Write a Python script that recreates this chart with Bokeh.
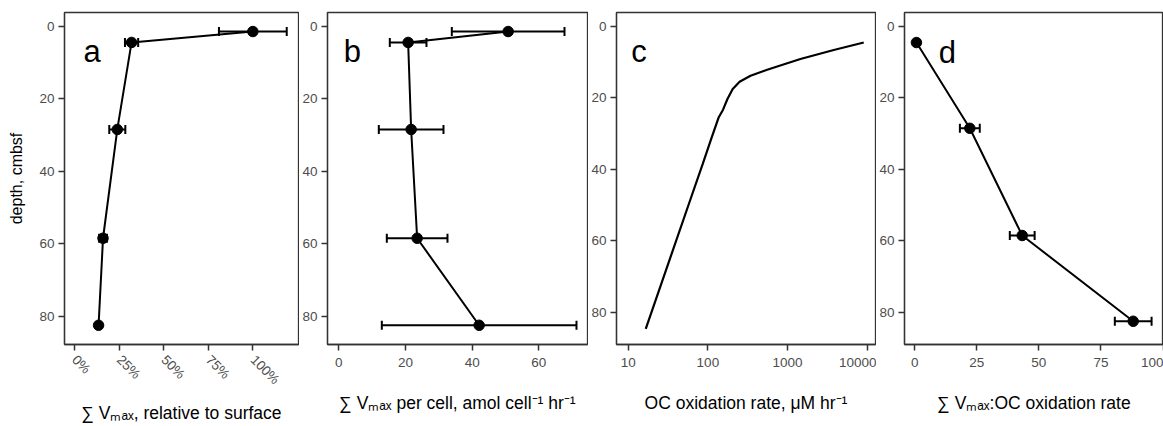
from bokeh.plotting import figure
from bokeh.layouts import row
from bokeh.models import (Range1d, FixedTicker, PrintfTickFormatter, NumeralTickFormatter,
                          Whisker, TeeHead, ColumnDataSource, Label)
from bokeh.embed import file_html
from bokeh.resources import INLINE

# ---------------- data ----------------
depth = [1.5, 4.5, 28.5, 58.5, 82.5]

# panel a: sum Vmax relative to surface (%)
vmax_rel = [100, 32, 24, 16, 13.5]
vmax_rel_err = [19, 3.7, 4.5, 2.2, 0.5]

# panel b: sum Vmax per cell (amol cell-1 hr-1)
vmax_cell = [50.8, 20.8, 21.7, 23.5, 42.1]
vmax_cell_err = [16.9, 5.5, 9.7, 9.1, 29.2]

# panel c: OC oxidation rate (uM hr-1) profile
oc_rate = [9040, 3800, 1450, 555, 343, 250, 205, 176, 155, 137, 112, 86, 61.7, 16.6]
oc_depth = [4.5, 6.6, 9.1, 12.1, 13.8, 15.5, 17.5, 20.3, 23.3, 25.4, 31.0, 38.5, 47.8, 84.6]

# panel d: sum Vmax : OC oxidation rate
depth_d = [4.5, 28.5, 58.5, 82.5]
ratio = [0.7, 22.2, 43.3, 88.0]
ratio_err = [0.0, 4.0, 5.0, 7.4]

depth_ticks = [0, 20, 40, 60, 80]
ticks_a = [0, 25, 50, 75, 100]
ticks_b = [0, 20, 40, 60]
ticks_c = [10, 100, 1000, 10000]
ticks_d = [0, 25, 50, 75, 100]

FONT = "Liberation Sans"
H = 426


def style(p):
    p.outline_line_color = "#333333"
    p.outline_line_width = 1.3
    p.grid.visible = False
    p.background_fill_color = "white"
    p.border_fill_color = "white"
    for ax in p.axis:
        ax.axis_line_color = "#333333"
        ax.axis_line_width = 1.3
        ax.major_tick_line_color = "#333333"
        ax.major_tick_line_width = 1.5
        ax.major_tick_out = 6
        ax.major_tick_in = 0
        ax.minor_tick_line_color = None
        ax.major_label_text_font = FONT
        ax.major_label_text_font_size = "13.5px"
        ax.major_label_text_color = "#4D4D4D"
        ax.axis_label_text_font = FONT
        ax.axis_label_text_font_size = "17.5px"
        ax.axis_label_text_font_style = "normal"
        ax.axis_label_text_color = "black"
    p.yaxis.major_label_standoff = 4
    p.xaxis.major_label_standoff = 7


def make_fig(width, bl, br, x_range, y_range, x_axis_type="linear"):
    p = figure(width=width, height=H, x_range=x_range, y_range=y_range,
               x_axis_type=x_axis_type, output_backend="svg", toolbar_location=None,
               min_border_left=bl, min_border_right=br, min_border_top=12, min_border_bottom=82)
    style(p)
    p.yaxis.ticker = FixedTicker(ticks=depth_ticks)
    return p


def add_profile(p, xs, ys, errs):
    lo = [x - e for x, e in zip(xs, errs)]
    hi = [x + e for x, e in zip(xs, errs)]
    src = ColumnDataSource(dict(x=xs, y=ys, lo=lo, hi=hi))
    p.line("x", "y", source=src, line_color="black", line_width=2)
    p.scatter("x", "y", source=src, size=10.5, color="black")
    w = Whisker(source=src, base="y", lower="lo", upper="hi", dimension="width",
                line_color="black", line_width=2)
    w.upper_head = TeeHead(size=9, line_width=2, line_color="black")
    w.lower_head = TeeHead(size=9, line_width=2, line_color="black")
    p.add_layout(w)


def letter(p, x, y, t):
    p.add_layout(Label(x=x, y=y, text=t, text_font=FONT, text_font_size="31px",
                       text_align="left", text_baseline="alphabetic", text_color="black"))


# panel a
pa = make_fig(299, 64, 1, Range1d(-5.6, 125.6), Range1d(87.8, -3.75))
add_profile(pa, vmax_rel, depth, vmax_rel_err)
pa.xaxis.ticker = FixedTicker(ticks=ticks_a)
pa.xaxis.formatter = PrintfTickFormatter(format="%d%%")
pa.xaxis.major_label_orientation = -0.785
pa.xaxis.axis_label = "∑ Vₘₐₓ, relative to surface"
pa.xaxis.axis_label_standoff = 7
pa.yaxis.axis_label = "depth, cmbsf"
pa.yaxis.axis_label_text_font_size = "16px"
pa.yaxis.axis_label_standoff = 11
letter(pa, 5, 7.0, "a")

# panel b
pb = make_fig(289, 28, 1, Range1d(-3.39, 74.6), Range1d(87.8, -3.75))
add_profile(pb, vmax_cell, depth, vmax_cell_err)
pb.xaxis.ticker = FixedTicker(ticks=ticks_b)
pb.xaxis.axis_label = "∑ Vₘₐₓ per cell, amol cell⁻¹ hr⁻¹"
pb.xaxis.axis_label_standoff = 23
letter(pb, 1.5, 7.1, "b")

# panel c
pc = make_fig(288, 28, 1, Range1d(7.13, 12700), Range1d(89.0, -3.9), x_axis_type="log")
pc.line(oc_rate, oc_depth, line_color="black", line_width=2.2)
pc.xaxis.ticker = FixedTicker(ticks=ticks_c)
pc.xaxis.formatter = NumeralTickFormatter(format="0")
pc.xaxis.axis_label = "OC oxidation rate, μM hr⁻¹"
pc.xaxis.axis_label_standoff = 23
letter(pc, 10.9, 7.1, "c")

# panel d
pd_ = make_fig(287, 27, 0, Range1d(-4.11, 100.2), Range1d(89.0, -3.9))
add_profile(pd_, ratio, depth_d, ratio_err)
pd_.xaxis.ticker = FixedTicker(ticks=ticks_d)
pd_.xaxis.axis_label = "∑ Vₘₐₓ:OC oxidation rate"
pd_.xaxis.axis_label_standoff = 23
letter(pd_, 9.7, 7.2, "d")

layout = row(pa, pb, pc, pd_, spacing=0)
open("out.html", "w").write(file_html(layout, INLINE, "profiles"))
